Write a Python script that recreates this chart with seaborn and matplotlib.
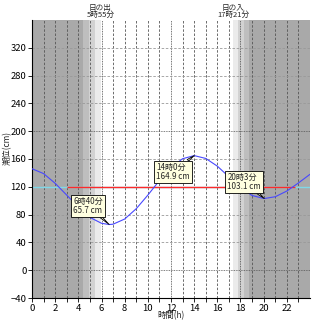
import numpy as np
import pandas as pd
import matplotlib
matplotlib.use("Agg")
import matplotlib.pyplot as plt
import seaborn as sns

# ---- data ----
hours = [0, 1, 2, 3, 4, 5, 6, 6.667, 7, 8, 9, 10, 11, 12, 13, 14, 15, 16, 17, 18, 19, 20, 20.05, 21, 22, 23, 24]
tide_cm = [146, 139, 125, 108, 91, 76, 67.5, 65.7, 66.2, 73.6, 88.5, 108, 129, 147.7, 160.4, 164.9,
           160.8, 149.7, 134.4, 119, 107.5, 103.2, 103.1, 105.7, 113.9, 125.5, 138]
ann_hours = [6.667, 14.0, 20.05]
ann_vals = [65.7, 164.9, 103.1]
ann_labels = ["6時40分\n65.7 cm", "14時0分\n164.9 cm", "20時3分\n103.1 cm"]
ann_offsets = [(-21, 19), (-21, -16), (-20, 17)]
ref_level = 120
sunrise_h, sunset_h = 5 + 55 / 60, 17 + 21 / 60
sun_labels = ["日の出\n5時55分", "日の入\n17時21分"]
# twilight bands (start, end, colour)
bands = [(0, 4.43, "#a9a9a9"), (4.43, 4.92, "#bebebe"), (4.92, 5.44, "#d2d2d2"), (5.44, sunrise_h, "#ebebeb"),
         (sunset_h, 17.81, "#ebebeb"), (17.81, 18.3, "#d2d2d2"), (18.3, 18.74, "#bebebe"), (18.74, 24, "#a9a9a9")]
yticks = list(range(-40, 321, 40))
xticks = list(range(0, 23, 2))

sns.set_style("white")
plt.rcParams['font.family'] = ['Noto Sans CJK JP', 'DejaVu Sans']

fig = plt.figure(figsize=(3.2, 3.2), dpi=100)
ax = fig.add_axes([32 / 320, 22 / 320, 278 / 320, 278 / 320])
ax.set_xlim(0, 24)
ax.set_ylim(-40, 360)

for s, e, c in bands:
    ax.axvspan(s, e, color=c, lw=0, zorder=0)

for h in range(1, 24):
    if h % 6 == 0:
        ax.axvline(h, color="#444444", lw=0.6, ls=(0, (1, 1)), zorder=1)
    else:
        ax.axvline(h, color="#555555", lw=0.6, ls=(0, (3, 2)), zorder=1)
for v in yticks:
    if v == -40:
        continue
    if v % 200 == 0:
        ax.axhline(v, color="#555555", lw=0.6, ls=(0, (1, 1)), zorder=1)
    else:
        ax.axhline(v, color="#999999", lw=0.6, ls=(0, (3, 2)), zorder=1)

ax.axhline(ref_level, color="#7fd8e8", lw=1.0, zorder=2)
ax.hlines(ref_level, 3.0, 22.7, color="#ff2a2a", lw=1.0, zorder=2)

df = pd.DataFrame({"h": hours, "cm": tide_cm})
sns.lineplot(data=df, x="h", y="cm", ax=ax, color="#4848ff", lw=0.8, zorder=3)

for x, y, lab, off in zip(ann_hours, ann_vals, ann_labels, ann_offsets):
    ax.annotate(lab, xy=(x, y), xytext=off, textcoords="offset pixels",
                ha="center", va="center", multialignment="left", fontsize=5.8, linespacing=1.0,
                bbox=dict(boxstyle="square,pad=0.25", fc="#ffffe0", ec="black", lw=0.6),
                arrowprops=dict(arrowstyle="wedge,tail_width=0.25,shrink_factor=0.5", fc="#ffffe0", ec="black",
                                lw=0.6, shrinkA=0, shrinkB=0), zorder=5)

for x, lab in zip([sunrise_h, sunset_h], sun_labels):
    ax.text(x, 1.003, lab, transform=ax.get_xaxis_transform(), ha="center", va="bottom",
            fontsize=5.5, linespacing=0.9)

ax.set_yticks(yticks)
ax.set_xticks(xticks)
ax.set_xticks(range(0, 24), minor=True)
ax.tick_params(axis="both", which="both", direction="out", length=3, width=0.6, labelsize=6.8, pad=1,
               bottom=True, left=True, colors="black")
for sp in ["top", "right"]:
    ax.spines[sp].set_visible(False)
for sp in ["left", "bottom"]:
    ax.spines[sp].set_color("black")
    ax.spines[sp].set_linewidth(0.8)

ax.set_xlabel("時間(h)", fontsize=6, labelpad=0)
ax.set_ylabel("潮位(cm)", fontsize=6)
ax.yaxis.set_label_coords(-0.072, 0.54)
ax.xaxis.set_label_coords(0.5, -0.047)

fig.savefig("out.png", dpi=100)
